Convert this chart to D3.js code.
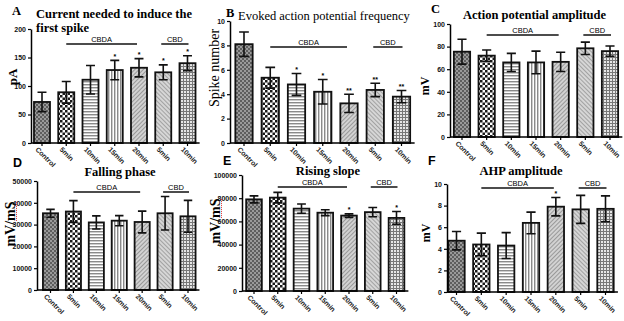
<!DOCTYPE html>
<html>
<head>
<meta charset="utf-8">
<script src="https://cdn.jsdelivr.net/npm/d3@7"></script>
<style>
body{margin:0;background:#fff;}
svg{display:block;}
</style>
</head>
<body>
<svg id="vis" width="624" height="321"></svg>
<script>
// group names on the x axis (same for every panel)
var groups = ['Control','5min','10min','15min','20min','5min','10min'];

// A - current needed to induce the first spike (pA)
var currentMean = [72, 89, 111, 128, 132, 124, 140];
var currentErr  = [17, 19, 25, 17, 16, 13, 13];
var currentSig  = ['', '', '', '*', '*', '*', '*'];
var currentTicks = [0, 50, 100, 150, 200];

// B - evoked action potential frequency (spike number)
var freqMean = [8.1, 5.35, 4.8, 4.2, 3.25, 4.35, 3.8];
var freqErr  = [1.0, 0.85, 0.9, 1.0, 0.75, 0.55, 0.5];
var freqSig  = ['', '', '*', '*', '**', '**', '**'];
var freqTicks = [0, 2, 4, 6, 8, 10];

// C - action potential amplitude (mV)
var ampMean = [75.5, 72, 66, 66, 66.5, 78.5, 76];
var ampErr  = [11, 5, 8, 10, 8.5, 5.5, 4.5];
var ampSig  = ['', '', '', '', '', '', ''];
var ampTicks = [0, 20, 40, 60, 80, 100];

// D - falling phase (mV/mS)
var fallMean = [35200, 36000, 31000, 31800, 31200, 35200, 33800];
var fallErr  = [1800, 5000, 3000, 2300, 5000, 7700, 7300];
var fallSig  = ['', '', '', '', '', '', ''];
var fallTicks = [0, 10000, 20000, 30000, 40000, 50000];

// E - rising slope (mV/mS)
var riseMean = [79000, 80500, 71000, 67500, 65000, 68000, 63000];
var riseErr  = [3000, 4500, 4000, 2500, 1500, 4000, 5500];
var riseSig  = ['', '', '', '', '*', '', '*'];
var riseTicks = [0, 20000, 40000, 60000, 80000, 100000];

// F - AHP amplitude (mV)
var ahpMean = [4.75, 4.4, 4.3, 6.4, 7.9, 7.65, 7.7];
var ahpErr  = [0.85, 1.05, 1.2, 1.0, 0.85, 1.3, 1.2];
var ahpSig  = ['', '', '', '', '*', '', ''];
var ahpTicks = [0, 2, 4, 6, 8, 10];

var svg = d3.select('#vis');
var defs = svg.append('defs');

// fill patterns, one per group
function pattern(id, w, h, bg, rects, rot) {
    var p = defs.append('pattern')
        .attr('id', id)
        .attr('patternUnits', 'userSpaceOnUse')
        .attr('width', w)
        .attr('height', h);
    if (rot) p.attr('patternTransform', 'rotate(' + rot + ')');
    p.append('rect').attr('width', w).attr('height', h).attr('fill', bg);
    rects.forEach(function (r) {
        p.append('rect')
            .attr('x', r[0]).attr('y', r[1])
            .attr('width', r[2]).attr('height', r[3])
            .attr('fill', r[4]);
    });
}
pattern('p0', 4, 4, '#9a9a9a', [[0,0,2,2,'#5e5e5e'],[2,2,2,2,'#5e5e5e']]);
pattern('p1', 5, 5, '#fff', [[0,0,2.5,2.5,'#1a1a1a'],[2.5,2.5,2.5,2.5,'#1a1a1a']]);
pattern('p2', 4, 3, '#fff', [[0,0,4,1,'#8a8a8a'],[0,1,4,1,'#cdcdcd']]);
pattern('p3', 3, 4, '#fff', [[0,0,1,4,'#8a8a8a'],[1,0,1,4,'#cdcdcd']]);
pattern('p4', 3, 3, '#d2d2d2', [[0,0,1,3,'#999']], 45);
pattern('p5', 3, 3, '#d6d6d6', [[0,0,1,3,'#a2a2a2']], -45);
pattern('p6', 3, 3, '#e6e6e6', [[0,0,1,3,'#777'],[0,0,3,1,'#777']]);

// panel layout
var panels = [
    {mean: currentMean, err: currentErr, sig: currentSig, ticks: currentTicks,
     axisX: 31, c0: 42, c6: 187.5, top: 29, bottom: 143, groupY: 44,
     letter: 'A', letterX: 12, letterY: 15, letterFont: 'serif',
     title: ['Current needed to induce the', 'first spike'], titleX: 36, titleY: 18, titleAnchor: 'start', titleWeight: 'bold',
     ylabel: 'pA', ylabelX: 17, ylabelY: 77, ylabelSize: 13},
    {mean: freqMean, err: freqErr, sig: freqSig, ticks: freqTicks,
     axisX: 230, c0: 244, c6: 401.5, top: 21, bottom: 143, groupY: 47,
     letter: 'B', letterX: 226, letterY: 17, letterFont: 'serif',
     title: ['Evoked action potential frequency'], titleX: 238, titleY: 20, titleAnchor: 'start', titleWeight: 'normal',
     ylabel: 'Spike number', ylabelX: 219, ylabelY: 68, ylabelSize: 14, ylabelWeight: 'normal'},
    {mean: ampMean, err: ampErr, sig: ampSig, ticks: ampTicks,
     axisX: 450, c0: 462, c6: 610, top: 24, bottom: 137, groupY: 35,
     letter: 'C', letterX: 431, letterY: 13, letterFont: 'serif',
     title: ['Action potential amplitude'], titleX: 463, titleY: 19, titleAnchor: 'start', titleWeight: 'bold',
     ylabel: 'mV', ylabelX: 429, ylabelY: 86, ylabelSize: 12},
    {mean: fallMean, err: fallErr, sig: fallSig, ticks: fallTicks,
     axisX: 37, c0: 50.5, c6: 188, top: 181, bottom: 290, groupY: 192,
     letter: 'D', letterX: 13, letterY: 167, letterFont: 'sans',
     title: ['Falling phase'], titleX: 120, titleY: 176, titleAnchor: 'middle', titleWeight: 'bold',
     ylabel: 'mV/mS', ylabelX: 15, ylabelY: 224, ylabelSize: 14, squiggle: true},
    {mean: riseMean, err: riseErr, sig: riseSig, ticks: riseTicks,
     axisX: 242, c0: 254, c6: 396.5, top: 175, bottom: 291, groupY: 187,
     letter: 'E', letterX: 223, letterY: 165, letterFont: 'sans',
     title: ['Rising slope'], titleX: 328, titleY: 175, titleAnchor: 'middle', titleWeight: 'bold',
     ylabel: 'mV/mS', ylabelX: 220, ylabelY: 221, ylabelSize: 14, squiggle: true},
    {mean: ahpMean, err: ahpErr, sig: ahpSig, ticks: ahpTicks,
     axisX: 447, c0: 456.5, c6: 605.5, top: 184, bottom: 292, groupY: 188,
     letter: 'F', letterX: 428, letterY: 165, letterFont: 'sans',
     title: ['AHP amplitude'], titleX: 521, titleY: 175, titleAnchor: 'middle', titleWeight: 'bold',
     ylabel: 'mV', ylabelX: 430, ylabelY: 233, ylabelSize: 12}
];

var SERIF = '"Liberation Serif", "DejaVu Serif", serif';
var SANS = '"Liberation Sans", Arial, sans-serif';

panels.forEach(drawPanel);

function drawPanel(p) {
    var g = svg.append('g');
    var idx = d3.range(groups.length);
    var step = (p.c6 - p.c0) / (groups.length - 1);

    var x = d3.scaleBand()
        .domain(idx)
        .range([p.c0 - step / 2, p.c6 + step / 2])
        .paddingInner(0.34)
        .paddingOuter(0.17);

    var y = d3.scaleLinear()
        .domain([0, d3.max(p.ticks)])
        .range([p.bottom, p.top]);

    // bars
    g.selectAll('.bar')
        .data(idx)
        .enter().append('rect')
        .attr('x', function (i) { return x(i); })
        .attr('y', function (i) { return y(p.mean[i]); })
        .attr('width', x.bandwidth())
        .attr('height', function (i) { return y(0) - y(p.mean[i]); })
        .attr('fill', function (i) { return 'url(#p' + i + ')'; })
        .attr('stroke', '#111')
        .attr('stroke-width', 1.8);

    // error bars
    var cap = x.bandwidth() * 0.28;
    var eb = g.selectAll('.err').data(idx).enter().append('g')
        .attr('stroke', '#111').attr('stroke-width', 1.6).attr('fill', 'none');
    eb.append('path')
        .attr('d', function (i) {
            var cx = x(i) + x.bandwidth() / 2;
            var lo = y(p.mean[i] - p.err[i]), hi = y(p.mean[i] + p.err[i]);
            return 'M' + cx + ',' + lo + 'V' + hi +
                'M' + (cx - cap) + ',' + hi + 'H' + (cx + cap) +
                'M' + (cx - cap) + ',' + lo + 'H' + (cx + cap);
        });

    // significance stars
    g.selectAll('.sig').data(idx).enter().append('text')
        .attr('x', function (i) { return x(i) + x.bandwidth() / 2; })
        .attr('y', function (i) { return y(p.mean[i] + p.err[i]) - 1.5; })
        .attr('text-anchor', 'middle')
        .style('font', 'bold 7px ' + SANS)
        .text(function (i) { return p.sig[i]; });

    // y axis
    var yAxis = g.append('g')
        .attr('transform', 'translate(' + p.axisX + ',0)')
        .call(d3.axisLeft(y).tickValues(p.ticks).tickFormat(d3.format('d'))
            .tickSize(3).tickSizeOuter(0).tickPadding(2));
    yAxis.select('.domain').attr('stroke-width', 1.5);
    yAxis.selectAll('.tick line').attr('stroke-width', 1.2);
    yAxis.selectAll('text').style('font', 'bold 7px ' + SANS).attr('fill', '#111');

    // x axis
    var xAxis = g.append('g')
        .attr('transform', 'translate(0,' + p.bottom + ')')
        .call(d3.axisBottom(x).tickFormat('').tickSize(3).tickSizeOuter(0));
    xAxis.select('.domain')
        .attr('d', 'M' + p.axisX + ',0H' + x.range()[1])
        .attr('stroke-width', 1.5);
    xAxis.selectAll('.tick line').attr('stroke-width', 1.2);

    g.selectAll('.xlab').data(idx).enter().append('text')
        .attr('transform', function (i) {
            var cx = x(i) + x.bandwidth() / 2;
            return 'translate(' + (cx - 7) + ',' + (p.bottom + 7) + ') rotate(45)';
        })
        .style('font', 'bold 7px ' + SANS)
        .attr('fill', '#222')
        .text(function (i) { return groups[i]; });

    // CBDA / CBD group lines
    var mid = function (i) { return x(i) + x.bandwidth() / 2; };
    var brackets = [
        {label: 'CBDA', x1: mid(1), x2: mid(4) - 2},
        {label: 'CBD', x1: mid(5) - 2, x2: mid(6) + 1}
    ];
    brackets.forEach(function (b) {
        g.append('line')
            .attr('x1', b.x1).attr('x2', b.x2)
            .attr('y1', p.groupY).attr('y2', p.groupY)
            .attr('stroke', '#111').attr('stroke-width', 1.5);
        g.append('text')
            .attr('x', (b.x1 + b.x2) / 2)
            .attr('y', p.groupY - 2.5)
            .attr('text-anchor', 'middle')
            .style('font', '7.5px ' + SANS)
            .text(b.label);
    });

    // panel letter
    g.append('text')
        .attr('x', p.letterX).attr('y', p.letterY)
        .style('font', p.letterFont === 'serif' ? 'bold 12.5px ' + SERIF : 'bold 12.5px ' + SANS)
        .text(p.letter);

    // title
    p.title.forEach(function (t, k) {
        g.append('text')
            .attr('x', p.titleX).attr('y', p.titleY + k * 14)
            .attr('text-anchor', p.titleAnchor)
            .style('font', (p.titleWeight || 'bold') + ' 12.5px ' + SERIF)
            .text(t);
    });

    // y label
    var yl = g.append('text')
        .attr('transform', 'translate(' + p.ylabelX + ',' + p.ylabelY + ') rotate(-90)')
        .attr('text-anchor', 'middle')
        .style('font', (p.ylabelWeight || 'bold') + ' ' + p.ylabelSize + 'px ' + SERIF);
    if (p.squiggle) {
        yl.append('tspan').text('mV/');
        var ms = yl.append('tspan').text('mS');
        var total = yl.node().getComputedTextLength();
        var msw = ms.node().getComputedTextLength();
        g.append('line')
            .attr('transform', 'translate(' + p.ylabelX + ',' + p.ylabelY + ') rotate(-90)')
            .attr('x1', total / 2 - msw).attr('x2', total / 2)
            .attr('y1', 1.5).attr('y2', 1.5)
            .attr('stroke', '#e03030').attr('stroke-width', 1)
            .attr('stroke-dasharray', '1,1');
    } else {
        yl.text(p.ylabel);
    }
}
</script>
</body>
</html>
